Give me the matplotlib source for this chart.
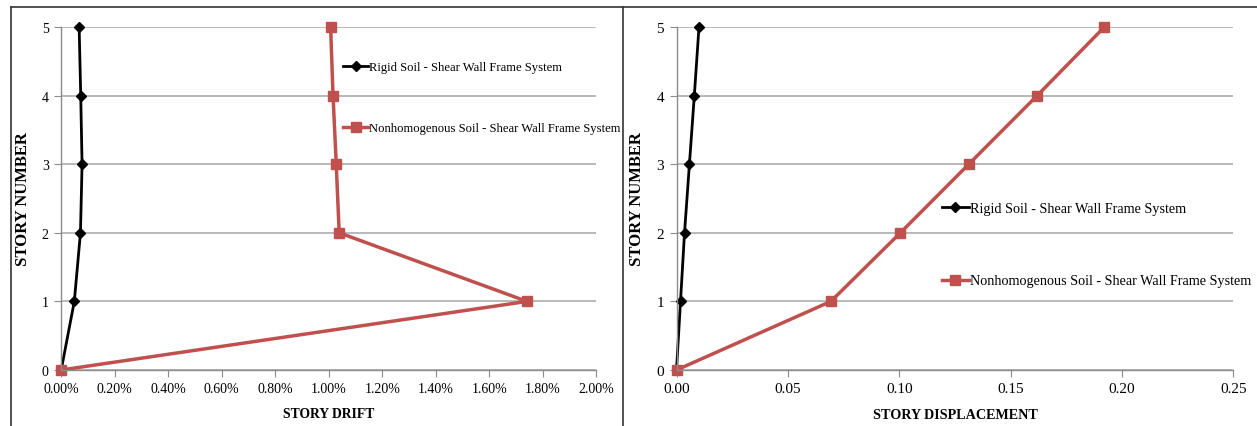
import matplotlib
matplotlib.use("Agg")
import matplotlib.pyplot as plt
from matplotlib.ticker import FuncFormatter
from matplotlib.lines import Line2D

plt.rcParams['font.family'] = ['Liberation Serif', 'DejaVu Serif']

# data
stories = [0, 1, 2, 3, 4, 5]
drift_rigid = [0.0, 0.049, 0.072, 0.078, 0.073, 0.067]      # percent
drift_nonhom = [0.0, 1.741, 1.039, 1.028, 1.016, 1.007]     # percent
disp_rigid = [0.0, 0.0018, 0.0036, 0.0058, 0.0080, 0.0101]
disp_nonhom = [0.0, 0.0693, 0.1005, 0.1312, 0.1619, 0.1921]

label_rigid = 'Rigid Soil - Shear Wall Frame System'
label_nonhom = 'Nonhomogenous Soil - Shear Wall Frame System'

BLACK = '#000000'
RED = '#c0504d'
GRID = '#a6a6a6'
SPINE = '#8c8c8c'

W, H = 1257, 427
fig = plt.figure(figsize=(W / 100, H / 100), dpi=100)


def style_axes(ax, tick_size):
    ax.set_ylim(0, 5)
    ax.set_yticks(stories)
    ax.grid(axis='y', color=GRID, linewidth=1.1)
    ax.set_axisbelow(True)
    for s in ['top', 'right']:
        ax.spines[s].set_visible(False)
    for s in ['left', 'bottom']:
        ax.spines[s].set_color(SPINE)
        ax.spines[s].set_linewidth(1.0)
    ax.tick_params(axis='both', direction='out', length=5, color=SPINE,
                   labelsize=tick_size, pad=4)
    ax.set_ylabel('STORY NUMBER', fontsize=12, fontweight='bold', labelpad=8)


# left panel: story drift
ax1 = fig.add_axes([61.2 / W, 1 - 371 / H, (596.3 - 61.2) / W, (371 - 28) / H])
ax1.plot(drift_rigid, stories, color=BLACK, lw=2, marker='D', ms=5.5, label=label_rigid)
ax1.plot(drift_nonhom, stories, color=RED, lw=2.5, marker='s', ms=7, label=label_nonhom)
ax1.set_xlim(0, 2.0)
ax1.set_xticks([i * 0.2 for i in range(11)])
ax1.xaxis.set_major_formatter(FuncFormatter(lambda v, p: f'{v:.2f}%'))
ax1.set_xlabel('STORY DRIFT', fontsize=9.8, fontweight='bold', labelpad=8)
style_axes(ax1, 10)
leg1 = ax1.legend(loc='upper left', bbox_to_anchor=(343 / W, 1 - 62 / H),
                  bbox_transform=fig.transFigure, frameon=False, fontsize=9.1,
                  handlelength=2.0, handletextpad=0.05, labelspacing=3.9,
                  borderaxespad=0, borderpad=0)

# right panel: story displacement
ax2 = fig.add_axes([676.5 / W, 1 - 371 / H, (1233.4 - 676.5) / W, (371 - 28) / H])
ax2.plot(disp_rigid, stories, color=BLACK, lw=2, marker='D', ms=5.5, label=label_rigid)
ax2.plot(disp_nonhom, stories, color=RED, lw=2.5, marker='s', ms=7, label=label_nonhom)
ax2.set_xlim(0, 0.25)
ax2.set_xticks([0, 0.05, 0.10, 0.15, 0.20, 0.25])
ax2.xaxis.set_major_formatter(FuncFormatter(lambda v, p: f'{v:.2f}'))
ax2.set_xlabel('STORY DISPLACEMENT', fontsize=10.2, fontweight='bold', labelpad=9)
style_axes(ax2, 11)
leg2 = ax2.legend(loc='upper left', bbox_to_anchor=(942 / W, 1 - 203 / H),
                  bbox_transform=fig.transFigure, frameon=False, fontsize=10.2,
                  handlelength=1.9, handletextpad=0.05, labelspacing=4.2,
                  borderaxespad=0, borderpad=0)

for a in (ax1, ax2):
    for ln in a.get_lines():
        ln.set_clip_on(False)

# outer frame lines
frame_kw = dict(color='#333333', linewidth=1.2, transform=fig.transFigure)
fig.add_artist(Line2D([11 / W, 1], [1 - 8 / H, 1 - 8 / H], **frame_kw))
fig.add_artist(Line2D([11 / W, 11 / W], [0, 1 - 8 / H], **frame_kw))
fig.add_artist(Line2D([623 / W, 623 / W], [0, 1 - 8 / H], **frame_kw))

fig.savefig('out.png', dpi=100)
